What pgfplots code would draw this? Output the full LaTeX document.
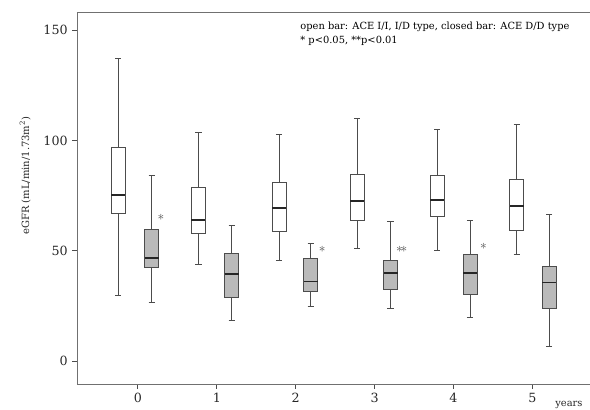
\documentclass[border=0pt]{standalone}
\usepackage{fontspec}
\setmainfont{DejaVu Serif}
\usepackage{pgfplots}
\pgfplotsset{compat=1.18}
\usepgfplotslibrary{statistics}

\definecolor{lin}{gray}{0.3}
\definecolor{shade}{gray}{0.73}

\pgfplotsset{
  openbox/.style={draw=lin, fill=white, line width=0.7pt},
  closedbox/.style={draw=lin, fill=shade, line width=0.7pt},
}

\begin{document}
\begin{tikzpicture}
\begin{axis}[
    name=ax,
    scale only axis,
    width=384.75pt, height=279pt,
    xmin=-0.772, xmax=5.730,
    ymin=-10.4, ymax=158.2,
    axis lines*=left,
    axis line style={draw=lin!80, line width=0.7pt},
    tick align=outside,
    tick pos=left,
    major tick length=3.5pt,
    tick style={draw=lin, line width=0.7pt},
    xtick={0,1,2,3,4,5},
    ytick={0,50,100,150},
    /pgf/number format/assume math mode=true,
    ticklabel style={font=\fontsize{9.5}{11}\selectfont, text=black!85},
    ylabel={eGFR (mL/min/1.73m\textsuperscript{2})},
    ylabel style={at={(axis description cs:-0.101,0.56)}, anchor=center,
      font=\fontsize{7.5}{9}\selectfont, text=black!85},
    boxplot/draw direction=y,
    boxplot/box extend=0.177,
    boxplot/whisker extend=0.08,
    boxplot/every median/.style={line width=1.3pt, draw=black!85},
    clip=false,
    ]
% year 0
\addplot[openbox, boxplot prepared={draw position=-0.248, lower whisker=29.6,
  lower quartile=66.9, median=75.2, upper quartile=96.6, upper whisker=137.0}] coordinates {};
\addplot[closedbox, boxplot prepared={draw position=0.175, lower whisker=26.6,
  lower quartile=42.2, median=46.7, upper quartile=59.8, upper whisker=84.0}] coordinates {};
% year 1
\addplot[openbox, boxplot prepared={draw position=0.766, lower whisker=44.0,
  lower quartile=58.0, median=64.0, upper quartile=78.8, upper whisker=103.6}] coordinates {};
\addplot[closedbox, boxplot prepared={draw position=1.189, lower whisker=18.6,
  lower quartile=28.7, median=39.4, upper quartile=48.8, upper whisker=61.5}] coordinates {};
% year 2
\addplot[openbox, boxplot prepared={draw position=1.788, lower whisker=45.6,
  lower quartile=58.8, median=69.5, upper quartile=81.0, upper whisker=102.5}] coordinates {};
\addplot[closedbox, boxplot prepared={draw position=2.190, lower whisker=24.9,
  lower quartile=31.6, median=36.0, upper quartile=46.5, upper whisker=53.3}] coordinates {};
% year 3
\addplot[openbox, boxplot prepared={draw position=2.781, lower whisker=50.9,
  lower quartile=63.9, median=72.5, upper quartile=84.7, upper whisker=110.0}] coordinates {};
\addplot[closedbox, boxplot prepared={draw position=3.202, lower whisker=23.7,
  lower quartile=32.5, median=40.0, upper quartile=45.4, upper whisker=63.1}] coordinates {};
% year 4
\addplot[openbox, boxplot prepared={draw position=3.795, lower whisker=50.1,
  lower quartile=65.5, median=72.9, upper quartile=84.3, upper whisker=104.8}] coordinates {};
\addplot[closedbox, boxplot prepared={draw position=4.209, lower whisker=19.6,
  lower quartile=30.4, median=39.9, upper quartile=48.5, upper whisker=63.6}] coordinates {};
% year 5
\addplot[openbox, boxplot prepared={draw position=4.801, lower whisker=48.5,
  lower quartile=59.4, median=70.3, upper quartile=82.3, upper whisker=107.4}] coordinates {};
\addplot[closedbox, boxplot prepared={draw position=5.214, lower whisker=6.8,
  lower quartile=23.9, median=35.6, upper quartile=42.7, upper whisker=66.5}] coordinates {};

% top frame line (right side is cut off in the reference)
\draw[lin!80, line width=0.7pt] (rel axis cs:0,1) -- (rel axis cs:1,1);

% significance marks
\node[text=black!70, font=\fontsize{10}{11}\selectfont] at (axis cs:0.293,65.2) {$\ast$};
\node[text=black!70, font=\fontsize{10}{11}\selectfont] at (axis cs:2.337,50.7) {$\ast$};
\node[text=black!70, font=\fontsize{10}{11}\selectfont] at (axis cs:3.343,50.7) {$\ast\!\ast$};
\node[text=black!70, font=\fontsize{10}{11}\selectfont] at (axis cs:4.378,51.8) {$\ast$};

% note
\node[anchor=base west, inner sep=0pt, font=\fontsize{7.4}{8}\selectfont, text=black]
  at (rel axis cs:0.435,0.952) {open bar: ACE I/I, I/D type, closed bar: ACE D/D type};
\node[anchor=base west, inner sep=0pt, font=\fontsize{7.4}{8}\selectfont, text=black]
  at (rel axis cs:0.435,0.915) {* p<0.05, **p<0.01};

% axis unit
\node[anchor=base west, inner sep=0pt, font=\fontsize{7.4}{8}\selectfont, text=black!85]
  at (rel axis cs:0.932,0) [yshift=-17pt] {years};
\end{axis}
\pgfresetboundingbox
\path[use as bounding box] ([shift={(-57.75pt,-18.75pt)}]ax.south west)
  rectangle ([shift={(0pt,9pt)}]ax.north east);
\end{tikzpicture}
\end{document}
